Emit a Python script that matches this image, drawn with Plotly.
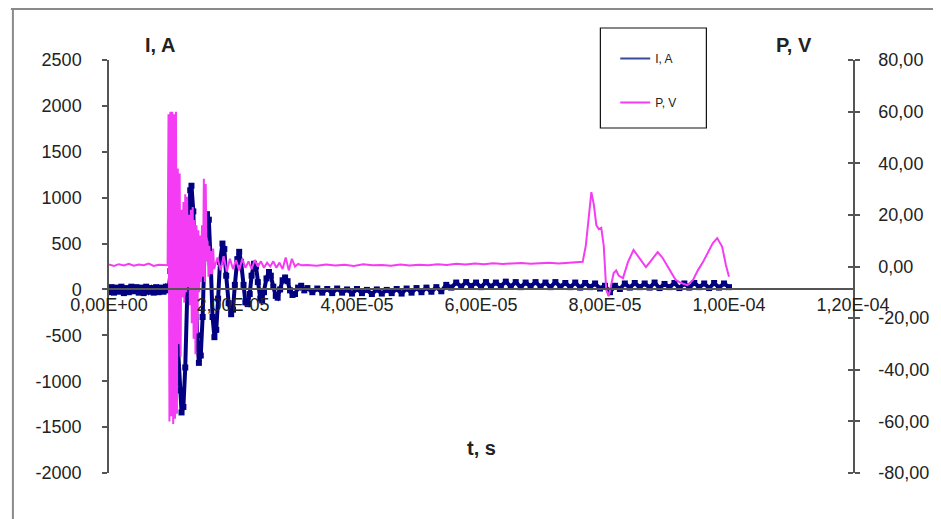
import plotly.graph_objects as go

# ---------------- data (time in microseconds) ----------------
t_I_us = [0.0, 0.4, 0.8, 1.2, 1.6, 2.0, 2.4, 2.8, 3.2, 3.6, 4.0, 4.4, 4.8, 5.2, 5.6, 6.0,
          6.4, 6.8, 7.2, 7.6, 8.0, 8.4, 8.8, 9.2,
          9.6, 9.9, 10.2, 10.5, 10.8, 11.1, 11.4, 11.7, 12.0, 12.3, 12.6, 12.9, 13.1, 13.3,
          13.6, 13.9, 14.2, 14.5, 14.8, 15.1, 15.4, 15.8, 16.1, 16.4, 16.7, 17.0, 17.3, 17.6,
          17.9, 18.3, 18.6, 18.9, 19.3, 19.7, 20.0, 20.3, 20.7, 21.0, 21.3, 21.7, 22.0, 22.4,
          22.7, 23.0, 23.4, 23.7, 24.0, 24.4, 24.7, 25.0, 25.4, 25.8, 26.1, 26.5, 26.9, 27.2,
          27.6, 28.0, 28.4, 28.8, 29.2, 29.6, 30.0, 30.5, 31.0, 31.5,
          32.0, 32.8, 33.6, 34.4, 35.2, 36.0, 36.8, 37.6, 38.4, 39.2, 40.0, 40.8, 41.6, 42.4,
          43.2, 44.0, 44.8, 45.6, 46.4, 47.2, 48.0, 48.8, 49.6, 50.4, 51.2, 52.0, 52.8, 53.6,
          54.4, 55.2, 56.0, 56.8, 57.6, 58.4, 59.2, 60.0, 60.8, 61.6, 62.4, 63.2, 64.0, 64.8,
          65.6, 66.4, 67.2, 68.0, 68.8, 69.6, 70.4, 71.2, 72.0, 72.8, 73.6, 74.4, 75.2, 76.0,
          76.8, 77.6, 78.4, 79.2, 80.0, 80.8, 81.6, 82.4, 83.2, 84.0, 84.8, 85.6, 86.4, 87.2,
          88.0, 88.8, 89.6, 90.4, 91.2, 92.0, 92.8, 93.6, 94.4, 95.2, 96.0, 96.8, 97.6, 98.4,
          99.2, 100.0]
I_A = [-30, 25, -35, 20, -25, 30, -40, 15, -30, 30, -20, 25, -35, 20, -40, 30,
       -25, 15, -35, 25, -30, 20, -25, 30,
       -10, 200, 350, 150, -250, -700, -1100, -1340, -1280, -850, -100, 700, 1080, 1130,
       850, 200, -500, -800, -720, -300, 400, 820, 760, 300, -300, -520, -440, -100,
       300, 500, 440, 150, -150, -270, -220, 50, 330, 410, 300, 50, -140, -160,
       -50, 150, 280, 250, 80, -100, -120, -30, 120, 190, 150, 30, -70, -90,
       0, 100, 130, 90, -10, -60, -50, 20, 40, -10,
       15, -30, 10, -35, 5, -40, 10, -35, 0, -45, 5, -40, -5, -50,
       0, -45, -5, -40, 5, -45, 10, -35, 15, -30, 20, -25, 25, -20,
       50, 20, 75, 30, 80, 35, 75, 25, 80, 30, 75, 35, 85, 30,
       80, 25, 75, 35, 80, 30, 75, 25, 80, 30, 70, 25, 75, 20,
       70, 25, 65, 10, 40, -30, 40, 5, 65, 20, 70, 25, 65, 20,
       75, 15, 60, 25, 70, 15, 65, 20, 70, 25, 65, 15, 70, 20,
       65, 25]

t_P_us = [0.0, 0.8, 1.6, 2.4, 3.2, 4.0, 4.8, 5.6, 6.4, 7.2, 8.0, 8.8, 9.45,
          9.60, 9.75, 9.90, 10.05, 10.20, 10.35, 10.50, 10.65, 10.80, 10.95,
          11.10, 11.25, 11.40, 11.55, 11.70, 11.85, 12.00, 12.15, 12.30, 12.45,
          12.60, 12.75, 12.90, 13.05, 13.20, 13.35, 13.50, 13.65, 13.80, 13.95,
          14.10, 14.25, 14.40, 14.55, 14.70, 14.85, 15.00, 15.15, 15.30, 15.45,
          15.60, 15.75, 15.90, 16.05, 16.20, 16.35, 16.50, 16.65, 16.80, 16.95,
          17.5, 18.0, 18.5, 19.0, 19.5, 20.0, 20.5, 21.0, 21.5, 22.0, 22.5, 23.0,
          23.5, 24.0, 24.5, 25.0, 25.5, 26.0, 26.5, 27.0, 27.5, 28.0, 28.5, 29.0,
          29.5, 30.0, 30.5, 31.0,
          32.0, 33.5, 35.0, 36.5, 38.0, 39.5, 41.0, 42.5, 44.0, 45.5, 47.0, 48.5,
          50.0, 51.5, 53.0, 54.5, 56.0, 57.5, 59.0, 60.5, 62.0, 63.5, 65.0, 66.5,
          68.0, 69.5, 71.0, 72.5, 74.0, 75.5,
          76.4, 76.9, 77.3, 77.8, 78.2, 78.6, 79.0, 79.4, 79.8, 80.2, 80.6, 81.0,
          81.4, 81.8, 82.2, 82.9, 83.7, 84.6, 85.6, 86.6, 87.5, 88.5, 89.3, 90.2,
          91.4, 92.3, 93.3, 94.2, 95.0, 95.8, 96.6, 97.4, 98.1, 98.9, 99.5, 100.0]
P_V = [0.8, 0.2, 0.9, 0.4, 1.0, 0.3, 0.8, 0.5, 1.1, 0.2, 0.7, 0.6, 0.5,
       59, -60, 60, -58, 60, -61, 59, -59, 60, -57,
       38, -30, 36, -35, 22, -12, 25, -14, 28, -10,
       27, -8, 20, -15, 22, -22, 23, -28, 18, -34,
       16, -26, 14, -10, 12, -6, 16, -4, 34, -6,
       32, 2, 10, -4, 8, -3, 6, -3, 7, -1,
       3.5, -1.5, 4, -2, 3, -1, 2.5, -1.5, 3, -0.5, 2, -1,
       2.5, 0, 2, -0.5, 1.5, 0, 2, -0.5, 1.5, -1, 3.5, -1.5,
       3, 0, 1, 0.5,
       0.6, 0.3, 0.8, 0.4, 0.7, 0.2, 0.9, 0.5, 0.6, 0.3, 0.8, 0.4,
       0.7, 0.5, 0.9, 0.6, 1.1, 0.8, 1.2, 0.9, 1.3, 1.0, 1.2, 1.4,
       1.1, 1.3, 1.5, 1.2, 1.4, 1.6,
       1.8, 8, 18, 28.8, 24, 16, 14.5, 15, 8, -9, -11.5, -7,
       -2.5, -1.5, -3.5, -4.5, 1.7, 6.4, 3.3, -0.2, 2.5, 5.6, 3.3, -0.2,
       -5.2, -6.4, -7.2, -5.2, -1.4, 1.7, 5.2, 9.1, 11, 7.6, 0.6, -4]

x_tick_vals_us = [0, 20, 40, 60, 80, 100, 120]
x_tick_labels = ["0,00E+00", "2,00E-05", "4,00E-05", "6,00E-05", "8,00E-05", "1,00E-04", "1,20E-04"]
I_tick_vals = [2500, 2000, 1500, 1000, 500, 0, -500, -1000, -1500, -2000]
I_tick_labels = ["2500", "2000", "1500", "1000", "500", "0", "-500", "-1000", "-1500", "-2000"]
P_tick_vals = [80, 60, 40, 20, 0, -20, -40, -60, -80]
P_tick_labels = ["80,00", "60,00", "40,00", "20,00", "0,00", "-20,00", "-40,00", "-60,00", "-80,00"]

assert len(t_I_us) == len(I_A), (len(t_I_us), len(I_A))
assert len(t_P_us) == len(P_V), (len(t_P_us), len(P_V))

t_I = [v * 1e-6 for v in t_I_us]
t_P = [v * 1e-6 for v in t_P_us]
x_tick_vals = [v * 1e-6 for v in x_tick_vals_us]

BLUE = "#000080"
PINK = "#F43CF4"
AXIS = "#555555"
TXT = "#222222"
FONT = "Liberation Sans, Arial, sans-serif"
NARROW = "Liberation Sans Narrow, Liberation Sans, Arial, sans-serif"

# page body has an 8px margin: figure is sized/positioned to compensate
OFF = 8
W, H = 941 - OFF, 519 - OFF
L, R, T, B = 109 - OFF, 81, 60 - OFF, 46
pw, ph = W - L - R, H - T - B

def px(xr):  # reference-picture x -> paper fraction
    return (xr - OFF - L) / pw

def py(yr):  # reference-picture y -> paper fraction
    return (H - B - (yr - OFF)) / ph

# ---------------- figure ----------------
fig = go.Figure()
fig.add_trace(go.Scatter(x=t_I, y=I_A, mode="lines+markers", name="I, A", showlegend=False,
                         line=dict(color=BLUE, width=4),
                         marker=dict(symbol="square", size=6, color=BLUE, line=dict(width=0)),
                         yaxis="y"))
fig.add_trace(go.Scatter(x=t_P, y=P_V, mode="lines", name="P, V", showlegend=False,
                         line=dict(color=PINK, width=2), yaxis="y2"))
# legend-only entries (thin samples as in the original legend)
fig.add_trace(go.Scatter(x=[None], y=[None], mode="lines", name="I, A", legendgroup="a",
                         line=dict(color="#3a4a9a", width=2), yaxis="y"))
fig.add_trace(go.Scatter(x=[None], y=[None], mode="lines", name="P, V", legendgroup="b",
                         line=dict(color=PINK, width=2), yaxis="y2"))
# empty trace carrying the overlay axis that gives the right axis its crossing ticks
fig.add_trace(go.Scatter(x=[None], y=[None], mode="lines", showlegend=False, yaxis="y3",
                         hoverinfo="skip"))

fig.update_layout(
    width=W, height=H,
    margin=dict(l=L, r=R, t=T, b=B, pad=0),
    paper_bgcolor="white", plot_bgcolor="white",
    font=dict(family=FONT, size=18, color=TXT),
    xaxis=dict(range=[0, 1.2e-4], anchor="free", position=2000 / 4500,
               showline=True, linecolor=AXIS, linewidth=1.5,
               showgrid=False, zeroline=False, ticks="",
               tickvals=x_tick_vals, ticktext=x_tick_labels,
               tickfont=dict(size=18, color=TXT), ticklabelstandoff=-1),
    yaxis=dict(range=[-2000, 2500], showline=True, linecolor=AXIS, linewidth=1.5,
               showgrid=False, zeroline=False, ticks="outside", ticklen=5,
               tickcolor=AXIS, tickwidth=1.5,
               tickvals=I_tick_vals, ticktext=I_tick_labels,
               tickfont=dict(size=18, color=TXT), ticklabelstandoff=17),
    yaxis2=dict(range=[-80, 80], overlaying="y", side="right", anchor="x",
                showline=True, linecolor=AXIS, linewidth=1.5,
                showgrid=False, zeroline=False, ticks="outside", ticklen=5,
                tickcolor=AXIS, tickwidth=1.5,
                tickvals=P_tick_vals, ticktext=P_tick_labels,
                tickfont=dict(size=18, color=TXT), ticklabelstandoff=15),
    yaxis3=dict(range=[-80, 80], overlaying="y", side="left", anchor="free", position=1,
                showline=False, showgrid=False, zeroline=False,
                ticks="outside", ticklen=5, tickcolor=AXIS, tickwidth=1.5,
                tickvals=P_tick_vals, showticklabels=False),
    legend=dict(x=px(620), y=py(44), xanchor="left", yanchor="top",
                borderwidth=0, bgcolor="rgba(0,0,0,0)",
                font=dict(family=NARROW, size=12, color=TXT),
                tracegroupgap=25, itemwidth=30),
    showlegend=True,
    annotations=[
        dict(text="<b>I, A</b>", x=px(160), y=py(45), xref="paper", yref="paper",
             xanchor="center", yanchor="middle", showarrow=False,
             font=dict(size=20, color=TXT)),
        dict(text="<b>P, V</b>", x=px(800), y=py(45), xref="paper", yref="paper",
             xanchor="center", yanchor="middle", showarrow=False,
             font=dict(size=20, color=TXT)),
        dict(text="<b>t, s</b>", x=px(485), y=py(448), xref="paper", yref="paper",
             xanchor="center", yanchor="middle", showarrow=False,
             font=dict(size=20, color=TXT)),
    ],
    shapes=[
        # outer frame of the picture
        dict(type="line", xref="paper", yref="paper", x0=px(10), x1=px(941),
             y0=py(9), y1=py(9), line=dict(color="#8a8a8a", width=2)),
        dict(type="line", xref="paper", yref="paper", x0=px(12), x1=px(12),
             y0=py(9), y1=py(519), line=dict(color="#8a8a8a", width=2)),
        # legend box
        dict(type="rect", xref="paper", yref="paper", x0=px(605), x1=px(712),
             y0=py(28), y1=py(128), line=dict(color="#111111", width=1.2),
             fillcolor="white", layer="above"),
    ],
)

fig.write_html("out.html")
